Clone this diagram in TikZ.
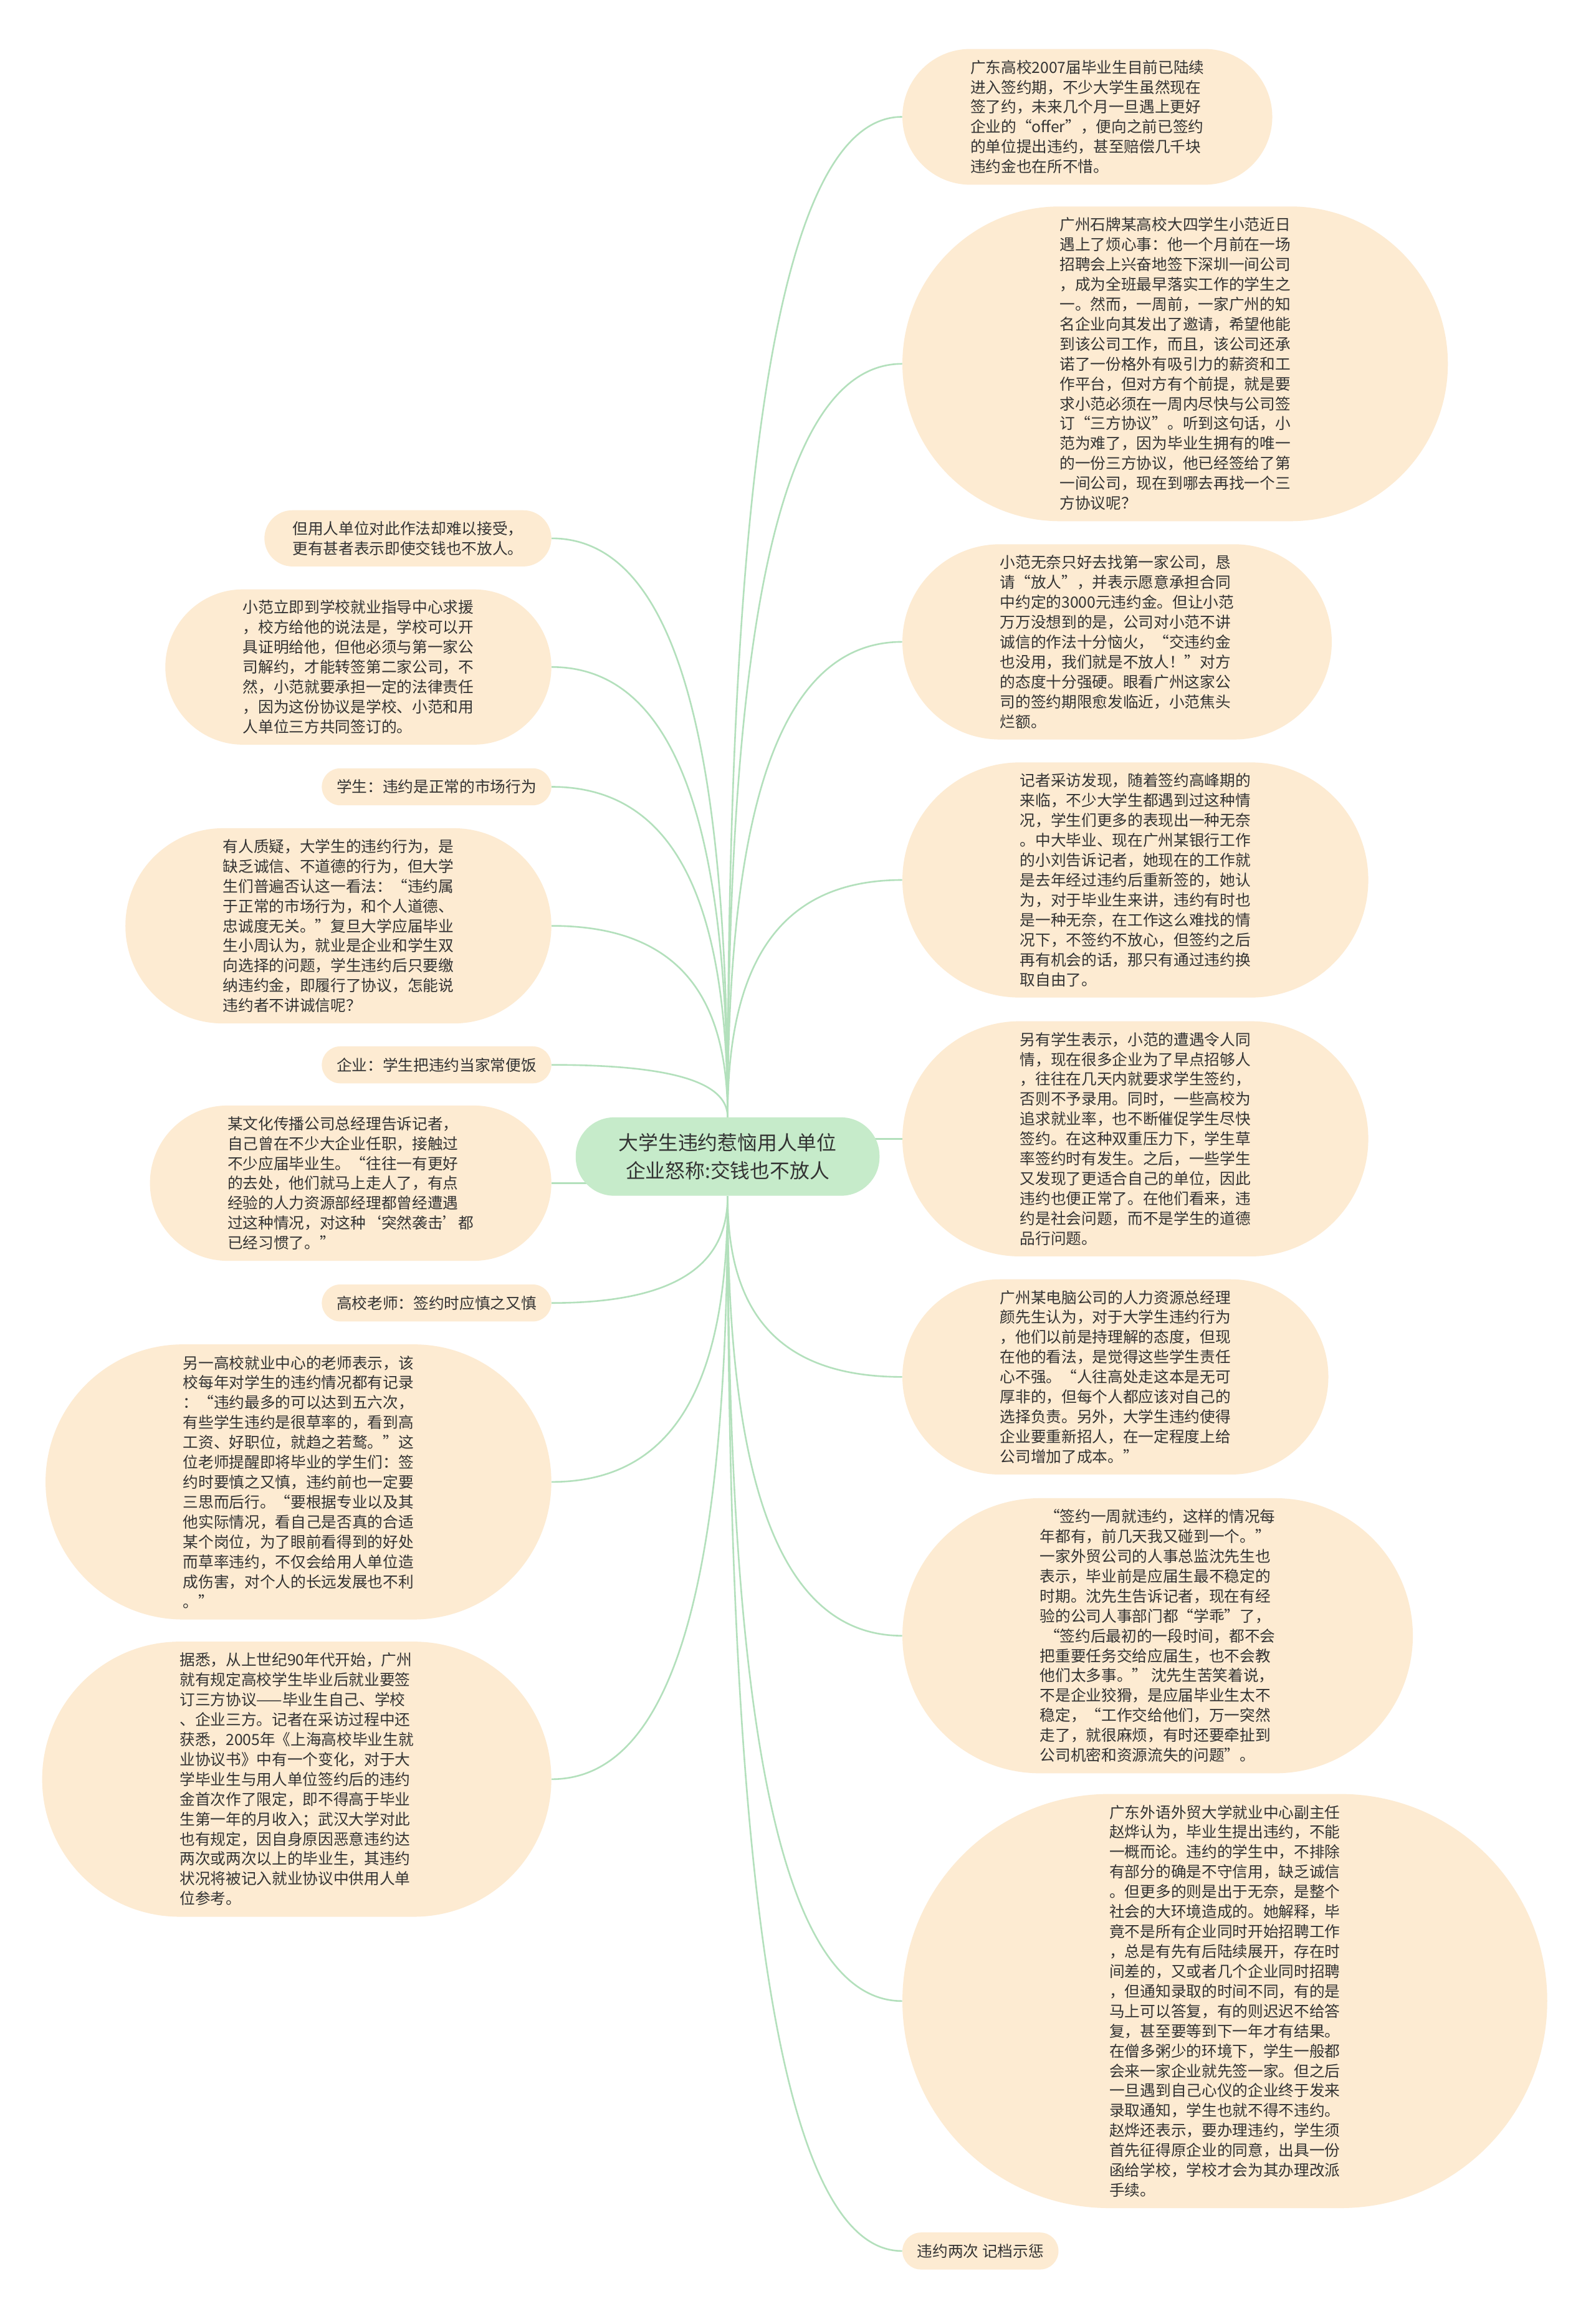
\documentclass[tikz,border=0pt]{standalone}
\usepackage{fontspec}
\newfontfamily\cjkfont{Noto Sans CJK SC}
\usepackage{xcolor}
\usepackage{tikz}
\usetikzlibrary{backgrounds, calc}

\definecolor{leafbg}{HTML}{FDEBD2}
\definecolor{hubbg}{HTML}{C6EBCA}
\definecolor{linkgreen}{HTML}{B3E0BC}
\definecolor{inktext}{HTML}{333333}

\begin{document}
\begin{tikzpicture}[x=1pt, y=-1pt,
  leaf/.style={fill=leafbg, text=inktext, align=left, inner xsep=#1, inner ysep=0pt,
               minimum height={2*#1}, rounded corners=#1,
               font=\cjkfont\fontsize{10.4pt}{13.45pt}\selectfont},
  hub/.style={fill=hubbg, text=inktext, align=center, inner xsep=29pt, inner ysep=0pt,
              minimum height=53pt, rounded corners=26pt,
              font=\cjkfont\fontsize{13.4pt}{19pt}\selectfont},
  link/.style={draw=linkgreen, line width=1.1pt},
]
  \useasboundingbox (0,0) rectangle (1079,1568);
  \begin{scope}[on background layer]
    \fill[white] (0,0) rectangle (1079,1568);
  \end{scope}

  \node[hub] (hub) at (492,782) {大学生违约惹恼用人单位\\企业怒称:交钱也不放人};

  % right side
  \node[leaf=45.9pt, anchor=west] (r1) at (610,79) {广东高校2007届毕业生目前已陆续\\进入签约期，不少大学生虽然现在\\签了约，未来几个月一旦遇上更好\\企业的“offer”，便向之前已签约\\的单位提出违约，甚至赔偿几千块\\违约金也在所不惜。};
  \node[leaf=106.4pt, anchor=west] (r2) at (610,246) {广州石牌某高校大四学生小范近日\\遇上了烦心事：他一个月前在一场\\招聘会上兴奋地签下深圳一间公司\\，成为全班最早落实工作的学生之\\一。然而，一周前，一家广州的知\\名企业向其发出了邀请，希望他能\\到该公司工作，而且，该公司还承\\诺了一份格外有吸引力的薪资和工\\作平台，但对方有个前提，就是要\\求小范必须在一周内尽快与公司签\\订“三方协议”。听到这句话，小\\范为难了，因为毕业生拥有的唯一\\的一份三方协议，他已经签给了第\\一间公司，现在到哪去再找一个三\\方协议呢？};
  \node[leaf=66pt, anchor=west] (r3) at (610,434) {小范无奈只好去找第一家公司，恳\\请“放人”，并表示愿意承担合同\\中约定的3000元违约金。但让小范\\万万没想到的是，公司对小范不讲\\诚信的作法十分恼火，“交违约金\\也没用，我们就是不放人！”对方\\的态度十分强硬。眼看广州这家公\\司的签约期限愈发临近，小范焦头\\烂额。};
  \node[leaf=79.5pt, anchor=west] (r4) at (610,595) {记者采访发现，随着签约高峰期的\\来临，不少大学生都遇到过这种情\\况，学生们更多的表现出一种无奈\\。中大毕业、现在广州某银行工作\\的小刘告诉记者，她现在的工作就\\是去年经过违约后重新签的，她认\\为，对于毕业生来讲，违约有时也\\是一种无奈，在工作这么难找的情\\况下，不签约不放心，但签约之后\\再有机会的话，那只有通过违约换\\取自由了。};
  \node[leaf=79.5pt, anchor=west] (r5) at (610,770) {另有学生表示，小范的遭遇令人同\\情，现在很多企业为了早点招够人\\，往往在几天内就要求学生签约，\\否则不予录用。同时，一些高校为\\追求就业率，也不断催促学生尽快\\签约。在这种双重压力下，学生草\\率签约时有发生。之后，一些学生\\又发现了更适合自己的单位，因此\\违约也便正常了。在他们看来，违\\约是社会问题，而不是学生的道德\\品行问题。};
  \node[leaf=66pt, anchor=west] (r6) at (610,931) {广州某电脑公司的人力资源总经理\\颜先生认为，对于大学生违约行为\\，他们以前是持理解的态度，但现\\在他的看法，是觉得这些学生责任\\心不强。“人往高处走这本是无可\\厚非的，但每个人都应该对自己的\\选择负责。另外，大学生违约使得\\企业要重新招人，在一定程度上给\\公司增加了成本。”};
  \node[leaf=93pt, anchor=west] (r7) at (610,1106) {\hspace{0.3em}“签约一周就违约，这样的情况每\\年都有，前几天我又碰到一个。”\\一家外贸公司的人事总监沈先生也\\表示，毕业前是应届生最不稳定的\\时期。沈先生告诉记者，现在有经\\验的公司人事部门都“学乖”了，\\\hspace{0.3em}“签约后最初的一段时间，都不会\\把重要任务交给应届生，也不会教\\他们太多事。” 沈先生苦笑着说，\\不是企业狡猾，是应届毕业生太不\\稳定，“工作交给他们，万一突然\\走了，就很麻烦，有时还要牵扯到\\公司机密和资源流失的问题”。};
  \node[leaf=140pt, anchor=west] (r8) at (610,1353) {广东外语外贸大学就业中心副主任\\赵烨认为，毕业生提出违约，不能\\一概而论。违约的学生中，不排除\\有部分的确是不守信用，缺乏诚信\\。但更多的则是出于无奈，是整个\\社会的大环境造成的。她解释，毕\\竟不是所有企业同时开始招聘工作\\，总是有先有后陆续展开，存在时\\间差的，又或者几个企业同时招聘\\，但通知录取的时间不同，有的是\\马上可以答复，有的则迟迟不给答\\复，甚至要等到下一年才有结果。\\在僧多粥少的环境下，学生一般都\\会来一家企业就先签一家。但之后\\一旦遇到自己心仪的企业终于发来\\录取通知，学生也就不得不违约。\\赵烨还表示，要办理违约，学生须\\首先征得原企业的同意，出具一份\\函给学校，学校才会为其办理改派\\手续。};
  \node[leaf=12.5pt, inner xsep=10pt, anchor=west] (r9) at (610,1522) {违约两次 记档示惩};

  % left side
  \node[leaf=19pt, anchor=east] (l1) at (373,364) {但用人单位对此作法却难以接受，\\更有甚者表示即使交钱也不放人。};
  \node[leaf=52.5pt, anchor=east] (l2) at (373,451) {小范立即到学校就业指导中心求援\\，校方给他的说法是，学校可以开\\具证明给他，但他必须与第一家公\\司解约，才能转签第二家公司，不\\然，小范就要承担一定的法律责任\\，因为这份协议是学校、小范和用\\人单位三方共同签订的。};
  \node[leaf=12.5pt, inner xsep=10pt, anchor=east] (l3) at (373,532) {学生：违约是正常的市场行为};
  \node[leaf=66pt, anchor=east] (l4) at (373,626) {有人质疑，大学生的违约行为，是\\缺乏诚信、不道德的行为，但大学\\生们普遍否认这一看法：“违约属\\于正常的市场行为，和个人道德、\\忠诚度无关。”复旦大学应届毕业\\生小周认为，就业是企业和学生双\\向选择的问题，学生违约后只要缴\\纳违约金，即履行了协议，怎能说\\违约者不讲诚信呢？};
  \node[leaf=12.5pt, inner xsep=10pt, anchor=east] (l5) at (373,720) {企业：学生把违约当家常便饭};
  \node[leaf=52.5pt, anchor=east] (l6) at (373,800) {某文化传播公司总经理告诉记者，\\自己曾在不少大企业任职，接触过\\不少应届毕业生。“往往一有更好\\的去处，他们就马上走人了，有点\\经验的人力资源部经理都曾经遭遇\\过这种情况，对这种‘突然袭击’都\\已经习惯了。”};
  \node[leaf=12.5pt, inner xsep=10pt, anchor=east] (l7) at (373,881) {高校老师：签约时应慎之又慎};
  \node[leaf=93pt, anchor=east] (l8) at (373,1002) {另一高校就业中心的老师表示，该\\校每年对学生的违约情况都有记录\\：“违约最多的可以达到五六次，\\有些学生违约是很草率的，看到高\\工资、好职位，就趋之若鹜。”这\\位老师提醒即将毕业的学生们：签\\约时要慎之又慎，违约前也一定要\\三思而后行。“要根据专业以及其\\他实际情况，看自己是否真的合适\\某个岗位，为了眼前看得到的好处\\而草率违约，不仅会给用人单位造\\成伤害，对个人的长远发展也不利\\。”};
  \node[leaf=93pt, anchor=east] (l9) at (373,1203) {据悉，从上世纪90年代开始，广州\\就有规定高校学生毕业后就业要签\\订三方协议——毕业生自己、学校\\、企业三方。记者在采访过程中还\\获悉，2005年《上海高校毕业生就\\业协议书》中有一个变化，对于大\\学毕业生与用人单位签约后的违约\\金首次作了限定，即不得高于毕业\\生第一年的月收入；武汉大学对此\\也有规定，因自身原因恶意违约达\\两次或两次以上的毕业生，其违约\\状况将被记入就业协议中供用人单\\位参考。};

  \begin{scope}[on background layer]
    % branches leave the hub from its top, side or bottom
    \draw[link] (hub.north) .. controls ($(hub.north)!0.6!(hub.north |- r1.west)$) and ($(r1.west)!0.75!(hub.north |- r1.west)$) .. (r1.west);
    \draw[link] (hub.north) .. controls ($(hub.north)!0.6!(hub.north |- r2.west)$) and ($(r2.west)!0.75!(hub.north |- r2.west)$) .. (r2.west);
    \draw[link] (hub.north) .. controls ($(hub.north)!0.6!(hub.north |- r3.west)$) and ($(r3.west)!0.75!(hub.north |- r3.west)$) .. (r3.west);
    \draw[link] (hub.north) .. controls ($(hub.north)!0.6!(hub.north |- r4.west)$) and ($(r4.west)!0.75!(hub.north |- r4.west)$) .. (r4.west);
    \draw[link] (hub.center |- r5.west) -- (r5.west);
    \draw[link] (hub.south) .. controls ($(hub.south)!0.6!(hub.south |- r6.west)$) and ($(r6.west)!0.75!(hub.south |- r6.west)$) .. (r6.west);
    \draw[link] (hub.south) .. controls ($(hub.south)!0.6!(hub.south |- r7.west)$) and ($(r7.west)!0.75!(hub.south |- r7.west)$) .. (r7.west);
    \draw[link] (hub.south) .. controls ($(hub.south)!0.6!(hub.south |- r8.west)$) and ($(r8.west)!0.75!(hub.south |- r8.west)$) .. (r8.west);
    \draw[link] (hub.south) .. controls ($(hub.south)!0.6!(hub.south |- r9.west)$) and ($(r9.west)!0.75!(hub.south |- r9.west)$) .. (r9.west);
    \draw[link] (hub.north) .. controls ($(hub.north)!0.6!(hub.north |- l1.east)$) and ($(l1.east)!0.75!(hub.north |- l1.east)$) .. (l1.east);
    \draw[link] (hub.north) .. controls ($(hub.north)!0.6!(hub.north |- l2.east)$) and ($(l2.east)!0.75!(hub.north |- l2.east)$) .. (l2.east);
    \draw[link] (hub.north) .. controls ($(hub.north)!0.6!(hub.north |- l3.east)$) and ($(l3.east)!0.75!(hub.north |- l3.east)$) .. (l3.east);
    \draw[link] (hub.north) .. controls ($(hub.north)!0.6!(hub.north |- l4.east)$) and ($(l4.east)!0.75!(hub.north |- l4.east)$) .. (l4.east);
    \draw[link] (hub.north) .. controls ($(hub.north)!0.6!(hub.north |- l5.east)$) and ($(l5.east)!0.75!(hub.north |- l5.east)$) .. (l5.east);
    \draw[link] (hub.center |- l6.east) -- (l6.east);
    \draw[link] (hub.south) .. controls ($(hub.south)!0.6!(hub.south |- l7.east)$) and ($(l7.east)!0.75!(hub.south |- l7.east)$) .. (l7.east);
    \draw[link] (hub.south) .. controls ($(hub.south)!0.6!(hub.south |- l8.east)$) and ($(l8.east)!0.75!(hub.south |- l8.east)$) .. (l8.east);
    \draw[link] (hub.south) .. controls ($(hub.south)!0.6!(hub.south |- l9.east)$) and ($(l9.east)!0.75!(hub.south |- l9.east)$) .. (l9.east);
  \end{scope}
\end{tikzpicture}
\end{document}
